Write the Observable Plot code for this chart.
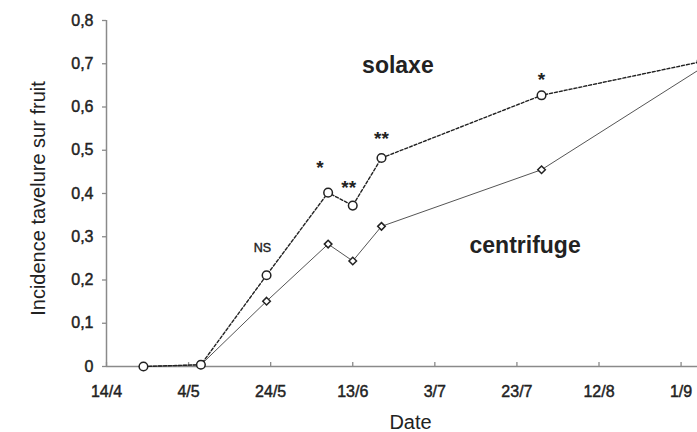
<!DOCTYPE html>
<html>
<head>
<meta charset="utf-8">
<script src="https://cdn.jsdelivr.net/npm/d3@7"></script>
<script src="https://cdn.jsdelivr.net/npm/@observablehq/plot@0.6"></script>
<style>
  html, body { margin: 0; padding: 0; background: white; overflow: hidden; }
  g[aria-label$="tick label"] text { stroke: #222; stroke-width: 0.45px; }
  g.ns text { stroke: #222; stroke-width: 0.4px; }
</style>
</head>
<body>
<div id="chart"></div>
<script>
// ---- data ----
const dates = ["2010-04-23", "2010-05-07", "2010-05-23", "2010-06-07", "2010-06-13", "2010-06-20", "2010-07-29", "2010-09-06"];
const solaxe = [0, 0.004, 0.211, 0.402, 0.372, 0.482, 0.627, 0.705];
const centrifuge = [0, 0.004, 0.151, 0.283, 0.244, 0.324, 0.455, 0.69];

const xTickDates = ["2010-04-14", "2010-05-04", "2010-05-24", "2010-06-13", "2010-07-03", "2010-07-23", "2010-08-12", "2010-09-01"];
const xTickLabels = ["14/4", "4/5", "24/5", "13/6", "3/7", "23/7", "12/8", "1/9"];
const yTicks = [0, 0.1, 0.2, 0.3, 0.4, 0.5, 0.6, 0.7, 0.8];
const yTickLabels = ["0", "0,1", "0,2", "0,3", "0,4", "0,5", "0,6", "0,7", "0,8"];

const sigLabels = ["NS", "*", "**", "**", "*"];
const sigDates = ["2010-05-22", "2010-06-05", "2010-06-12", "2010-06-20", "2010-07-29"];
const sigValues = [0.275, 0.470, 0.424, 0.536, 0.673];

const seriesNames = ["solaxe", "centrifuge"];
const seriesLabelDates = ["2010-06-24", "2010-07-25"];
const seriesLabelValues = [0.695, 0.280];

const xDomain = ["2010-04-14", "2010-09-05"];
const yLabel = "Incidence tavelure sur fruit";
const xLabel = "Date";

// ---- build tables ----
const parse = s => new Date(s + "T00:00:00Z");
const table = dates.map((d, i) => ({date: parse(d), solaxe: solaxe[i], centrifuge: centrifuge[i]}));
const xTicks = xTickDates.map(parse);
const sig = sigLabels.map((t, i) => ({text: t, date: parse(sigDates[i]), y: sigValues[i]}));
const seriesLabels = seriesNames.map((t, i) => ({text: t, date: parse(seriesLabelDates[i]), y: seriesLabelValues[i]}));

const axisColor = "#8a8a8a";
const ink = "#222";

const chart = Plot.plot({
  width: 697,
  height: 432,
  marginLeft: 106,
  marginRight: 0,
  marginTop: 20,
  marginBottom: 66,
  style: {fontFamily: "'Liberation Sans', Arial, sans-serif", fontSize: "16px", color: ink, background: "white"},
  x: {type: "utc", domain: xDomain.map(parse)},
  y: {domain: [0, 0.8]},
  marks: [
    Plot.ruleY([0], {stroke: axisColor, strokeWidth: 1.5}),
    Plot.ruleX([xTicks[0]], {stroke: axisColor, strokeWidth: 1.5}),
    Plot.ruleX(xTicks, {x: d => d, y1: 0, y2: 0.009, stroke: axisColor, strokeWidth: 1.3}),
    Plot.axisY(yTicks, {
      tickSize: 4, tickPadding: 9, stroke: axisColor, strokeWidth: 1.3, fill: ink, fontSize: 16,
      tickFormat: d => yTickLabels[yTicks.indexOf(d)], label: null
    }),
    Plot.axisX(xTicks, {
      tickSize: 0, tickPadding: 19, fill: ink, fontSize: 16,
      tickFormat: d => xTickLabels[xTicks.findIndex(t => +t === +d)], label: null
    }),
    Plot.text([yLabel], {
      text: d => d, frameAnchor: "left", textAnchor: "middle", lineAnchor: "middle",
      rotate: -90, dx: -68, dy: 5, fontSize: 20, fill: ink
    }),
    Plot.text([xLabel], {
      text: d => d, frameAnchor: "bottom", textAnchor: "middle", lineAnchor: "middle",
      dx: 8.5, dy: 55.6, fontSize: 20, fill: ink
    }),
    Plot.line(table, {x: "date", y: "centrifuge", stroke: "#555", strokeWidth: 1}),
    Plot.line(table, {x: "date", y: "solaxe", stroke: ink, strokeWidth: 1.4, strokeDasharray: "3,2"}),
    Plot.dot(table, {x: "date", y: "centrifuge", symbol: "diamond2", r: 3.4, stroke: ink, fill: "white", strokeWidth: 1.5}),
    Plot.dot(table, {x: "date", y: "solaxe", symbol: "circle", r: 4.3, stroke: ink, fill: "white", strokeWidth: 1.5}),
    Plot.text(sig.filter(d => d.text === "NS"), {x: "date", y: "y", text: "text", fontSize: 12.5, fill: ink, className: "ns"}),
    Plot.text(sig.filter(d => d.text !== "NS"), {x: "date", y: "y", text: "text", fontSize: 19, fontWeight: "bold", fill: ink, dy: 4.5}),
    Plot.text(seriesLabels, {x: "date", y: "y", text: "text", fontSize: 23, fontWeight: "bold", fill: ink})
  ]
});
document.getElementById("chart").appendChild(chart);
</script>
</body>
</html>
